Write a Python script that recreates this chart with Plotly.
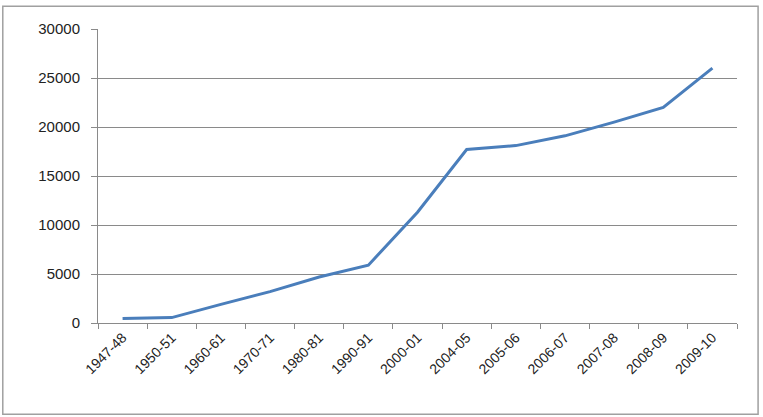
import plotly.graph_objects as go

years = ["1947-48", "1950-51", "1960-61", "1970-71", "1980-81", "1990-91",
         "2000-01", "2004-05", "2005-06", "2006-07", "2007-08", "2008-09", "2009-10"]
values = [450, 550, 1900, 3200, 4700, 5900, 11300, 17700, 18100, 19100, 20500, 22000, 26000]
y_ticks = [0, 5000, 10000, 15000, 20000, 25000, 30000]

fig = go.Figure()
fig.add_trace(go.Scatter(
    x=years, y=values, mode="lines",
    line=dict(color="#4a7ebb", width=3),
    showlegend=False,
))

font = dict(family="Liberation Sans, Arial, sans-serif", size=13, color="#222222")

fig.update_layout(
    width=763, height=417,
    margin=dict(l=98, r=26, t=29, b=94),
    paper_bgcolor="white", plot_bgcolor="white",
    font=font,
    xaxis=dict(
        type="category", tickangle=-45,
        range=[-0.5, len(years) - 0.5],
        showline=True, linecolor="#8a8a8a", linewidth=1,
        ticks="outside", ticklen=5, tickcolor="#8a8a8a",
        tickson="boundaries", showgrid=False,
        tickfont=dict(size=14),
    ),
    yaxis=dict(
        range=[0, 30000], tickvals=y_ticks,
        ticktext=[str(v) for v in y_ticks],
        showline=True, linecolor="#8a8a8a", linewidth=1,
        ticks="outside", ticklen=6, tickcolor="#8a8a8a",
        showgrid=True, gridcolor="#8a8a8a", gridwidth=1,
        zeroline=False, tickfont=dict(size=15),
        ticklabelstandoff=8,
    ),
    shapes=[dict(type="rect", xref="paper", yref="paper",
                 x0=-0.149, x1=1.033, y0=-0.31, y1=1.077,
                 line=dict(color="#a0a0a0", width=1.5))],
)

fig.write_html("out.html")
